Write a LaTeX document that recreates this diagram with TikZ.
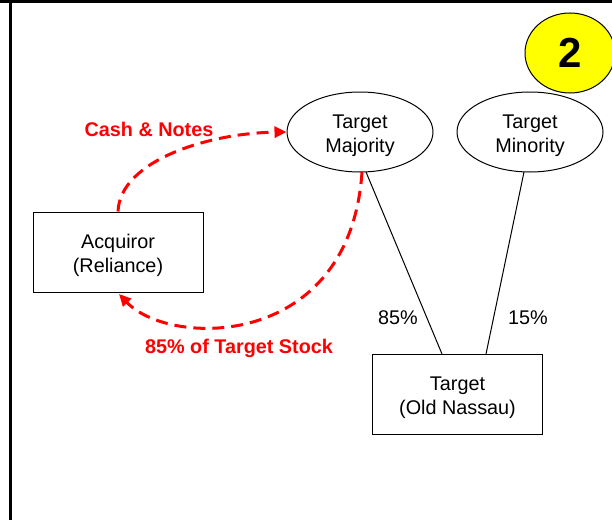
\documentclass[tikz,border=0pt]{standalone}
\usepackage{fontspec}
\setmainfont{Liberation Sans}
\usetikzlibrary{arrows.meta,shapes.geometric}
\definecolor{flowred}{RGB}{255,0,0}
\definecolor{badgeyellow}{RGB}{255,255,0}
\newcommand{\toppad}{\rule{0pt}{20.5pt}}
\tikzset{
  party/.style={draw=black,line width=1pt,ellipse,minimum width=146pt,minimum height=80pt,inner sep=0pt,align=center,font=\fontsize{19.8}{24}\selectfont},
  entity/.style={draw=black,line width=1pt,rectangle,minimum width=170pt,minimum height=80pt,inner sep=0pt,align=center,font=\fontsize{19.8}{24}\selectfont},
  flow/.style={draw=flowred,line width=3pt,dash pattern=on 12pt off 7pt,-{Triangle[length=12pt,width=11pt]}},
  flowlabel/.style={text=flowred,font=\fontsize{19.8}{24}\selectfont\bfseries},
  pct/.style={font=\fontsize{19.8}{24}\selectfont},
  own/.style={draw=black,line width=1pt},
  frame/.style={draw=black,line width=3pt}
}
\begin{document}
\begin{tikzpicture}[x=1pt,y=-1pt]
\useasboundingbox (0,0) rectangle (612,519);
\fill[white] (0,0) rectangle (612,519);
% frame
\coordinate (ftl) at (10,2);
\coordinate (ftr) at (613,2);
\coordinate (fbl) at (10,520);
\draw[frame] (-1,2) -- (ftr);
\draw[frame] (ftl) -- (fbl);
% badge
\node[ellipse,draw=black,line width=1pt,fill=badgeyellow,minimum width=90pt,minimum height=80pt,inner sep=0pt,font=\fontsize{42}{42}\selectfont\bfseries] (badge) at (570,53) {\raisebox{-4pt}{2}};
% nodes
\node[party] (maj) at (360,132) {\toppad Target\\Majority};
\node[party] (min) at (530,132) {\toppad Target\\Minority};
\node[entity] (acq) at (118,252) {\toppad Acquiror\\(Reliance)};
\node[entity] (tgt) at (457.5,394.5) {\toppad Target\\(Old Nassau)};
% ownership lines
\draw[own] (366,172) -- (tgt.north -| 442,0);
\draw[own] (524,172) -- (tgt.north -| 486,0);
\node[pct] (p85) at (398,318) {85\%};
\node[pct] (p15) at (528,318) {15\%};
% flows
\draw[flow] (acq.north) .. controls (120,160) and (210,133) .. (maj.west);
\draw[flow] (362,172) .. controls (350,350) and (170,348) .. (119,294);
\node[flowlabel] (lcash) at (149,129) {Cash \& Notes};
\node[flowlabel] (lstock) at (239,348) {85\% of Target Stock};
\end{tikzpicture}
\end{document}
